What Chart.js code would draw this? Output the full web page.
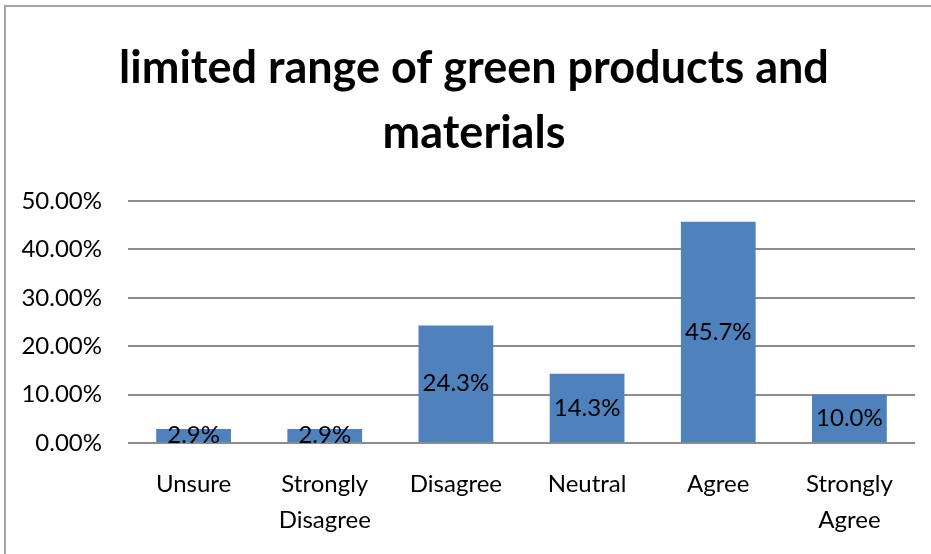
<!DOCTYPE html>
<html>
<head>
<meta charset="utf-8">
<script src="https://cdn.jsdelivr.net/npm/chart.js@4.4.1/dist/chart.umd.min.js"></script>
<style>
  html, body { margin: 0; padding: 0; background: #fff; }
  #wrap { position: relative; width: 931px; height: 554px; overflow: hidden; }
  #frame { position: absolute; left: 4px; top: 5px; width: 940px; height: 600px;
           border-top: 2px solid #a6a6a6; border-left: 2px solid #a6a6a6; }
  canvas { position: absolute; left: 0; top: 0; }
</style>
</head>
<body>
<div id="wrap">
  <div id="frame"></div>
  <canvas id="chart" width="931" height="554"></canvas>
</div>
<script>
const categories = ["Unsure", ["Strongly", "Disagree"], "Disagree", "Neutral", "Agree", ["Strongly", "Agree"]];
const shares = [2.9, 2.9, 24.3, 14.3, 45.7, 10.0];
const titleLines = ["limited range of green products and", "materials"];

const FONT = "Lato, 'Open Sans', sans-serif";

// heading, centred on the whole frame rather than the plot
const heading = {
  id: "heading",
  afterDraw(chart) {
    const ctx = chart.ctx;
    ctx.save();
    ctx.font = "bold 45px " + FONT;
    ctx.fillStyle = "#000";
    ctx.textAlign = "center";
    ctx.textBaseline = "middle";
    titleLines.forEach((line, i) => ctx.fillText(line, 474, 68 + i * 65));
    ctx.restore();
  }
};

// percentage printed in the middle of each bar
const barLabels = {
  id: "barLabels",
  afterDatasetsDraw(chart) {
    const ctx = chart.ctx;
    const meta = chart.getDatasetMeta(0);
    ctx.save();
    ctx.font = "24px " + FONT;
    ctx.fillStyle = "#000";
    ctx.textAlign = "center";
    ctx.textBaseline = "middle";
    meta.data.forEach((bar, i) => {
      const y = (bar.y + bar.base) / 2;
      ctx.fillText(shares[i].toFixed(1) + "%", bar.x, y);
    });
    ctx.restore();
  }
};

new Chart(document.getElementById("chart"), {
  type: "bar",
  plugins: [barLabels, heading],
  data: {
    labels: categories,
    datasets: [{
      data: shares,
      backgroundColor: "#4f81bd",
      borderWidth: 0,
      categoryPercentage: 1,
      barPercentage: 0.57
    }]
  },
  options: {
    responsive: false,
    animation: false,
    layout: { padding: { top: 201, right: 16, left: 0, bottom: 0 } },
    plugins: {
      legend: { display: false },
      tooltip: { enabled: false },
      title: { display: false }
    },
    scales: {
      x: {
        grid: { display: false, drawTicks: false },
        border: { display: false },
        ticks: {
          color: "#000",
          font: { family: FONT, size: 24, lineHeight: 1.5 },
          padding: 23,
          maxRotation: 0
        },
        afterFit(scale) { scale.height = 111; }
      },
      y: {
        min: 0,
        max: 50,
        grid: { color: "#8c8c8c", lineWidth: 2, drawTicks: false },
        border: { display: false },
        ticks: {
          stepSize: 10,
          color: "#000",
          font: { family: FONT, size: 24 },
          padding: 26,
          callback: v => v.toFixed(2) + "%"
        },
        afterFit(scale) { scale.width = 128; }
      }
    }
  }
});
</script>
</body>
</html>
